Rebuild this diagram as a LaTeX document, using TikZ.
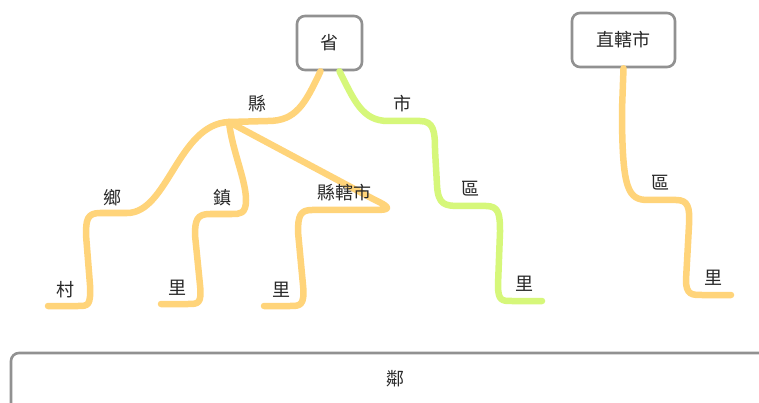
\documentclass[tikz,border=0pt]{standalone}
\usepackage{fontspec}
\setmainfont{Noto Sans CJK TC}
\definecolor{orangeline}{RGB}{255,212,122}
\definecolor{greenline}{RGB}{214,247,122}
\definecolor{boxgray}{RGB}{145,145,145}
\definecolor{txt}{RGB}{40,40,40}
\begin{document}
\begin{tikzpicture}[x=1pt,y=-1pt,
  box/.style={draw=boxgray, line width=2.6pt, rounded corners=8pt, fill=white, text=txt, font=\fontsize{18}{20}\selectfont, inner sep=0pt},
  lbl/.style={text=txt, font=\fontsize{18}{20}\selectfont, inner sep=0pt},
  oline/.style={draw=orangeline, line width=6.5pt, line cap=round, line join=round},
  gline/.style={draw=greenline, line width=6.5pt, line cap=round, line join=round}]
\clip (0,0) rectangle (759,403);
\fill[white] (0,0) rectangle (759,403);

% boxes
\node[box, minimum width=65pt, minimum height=54pt] (sheng) at (329.5,43) {省};
\node[box, minimum width=103pt, minimum height=54pt] (zhi) at (623.5,40) {直轄市};
\draw[draw=boxgray, line width=2.6pt, rounded corners=8pt] (800,353) -- (11,353) -- (11,430);

% end coordinates
\coordinate (hub) at (229,122);
\coordinate (e1) at (48,306);
\coordinate (e2) at (161,304);
\coordinate (e3) at (264,306);
\coordinate (e4) at (542,301);
\coordinate (e5) at (731,295);

% orange: 省 -> 縣 hub
\draw[oline] ([xshift=-9pt]sheng.south) .. controls (305,104) and (296,121) .. (268,121) -- (hub);
% 鄉 -> 村
\draw[oline] (hub) .. controls (178,124) and (168,213) .. (127,213) -- (100,213)
  .. controls (87,213) and (86,220) .. (86,235) -- (90,285)
  .. controls (91,306) and (88,306) .. (78,306) -- (e1);
% 鎮 -> 里
\draw[oline] (hub) .. controls (232,150) and (246,180) .. (246,200)
  .. controls (246,214) and (240,214) .. (232,214) -- (210,214)
  .. controls (197,214) and (195,220) .. (195,235) -- (200,285)
  .. controls (202,304) and (198,304) .. (188,304) -- (e2);
% 縣轄市 -> 里
\draw[oline] (hub) -- (375,200) .. controls (392,208) and (390,210) .. (375,210) -- (312,210)
  .. controls (300,210) and (298,216) .. (298,232) -- (303,285)
  .. controls (305,306) and (300,306) .. (290,306) -- (e3);
% green: 省 -> 市 -> 區 -> 里
\draw[gline] ([xshift=10pt]sheng.south) .. controls (354,100) and (362,121) .. (388,121) -- (420,121)
  .. controls (434,121) and (435,132) .. (435,150) -- (437,185)
  .. controls (438,205) and (445,206) .. (460,206) -- (486,206)
  .. controls (499,206) and (500,214) .. (500,232) -- (498,285)
  .. controls (498,301) and (502,301) .. (512,301) -- (e4);
% 直轄市 -> 區 -> 里
\draw[oline] (zhi.south) -- (622,110) .. controls (622,190) and (628,200) .. (648,200) -- (676,200)
  .. controls (688,200) and (690,207) .. (689,225) -- (686,280)
  .. controls (686,295) and (692,295) .. (702,295) -- (e5);

% labels
\node[lbl] (lin) at (395,379) {鄰};
\node[lbl] (xian) at (257,104) {縣};
\node[lbl] (shi) at (402,104) {市};
\node[lbl] (xiang) at (112,198) {鄉};
\node[lbl] (zhen) at (222,198) {鎮};
\node[lbl] (xxs) at (344,193) {縣轄市};
\node[lbl] (cun) at (65,290) {村};
\node[lbl] (li1) at (177,288) {里};
\node[lbl] (li2) at (281,290) {里};
\node[lbl] (qu1) at (470,189) {區};
\node[lbl] (li3) at (524,284) {里};
\node[lbl] (qu2) at (660,183) {區};
\node[lbl] (li4) at (713,278) {里};
\end{tikzpicture}
\end{document}
